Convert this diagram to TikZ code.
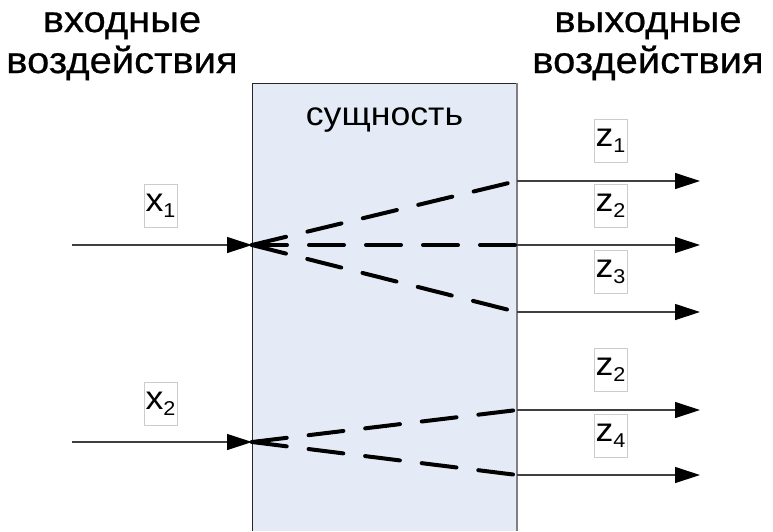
\documentclass[tikz,border=0pt]{standalone}
\usepackage{fontspec}
\setmainfont{Liberation Sans}[FakeStretch=1.08]
\newfontfamily\headfont{Liberation Sans}[FakeStretch=1.08,FakeBold=0.6]
\usetikzlibrary{arrows.meta}
\definecolor{entityblue}{HTML}{E5EBF6}
\newcommand{\varidx}[1]{\raisebox{-6pt}{\fontsize{20}{20}\selectfont #1}}

\begin{document}
\begin{tikzpicture}[x=1pt,y=-1pt,
    signal/.style={draw=black!75, line width=1.2pt, -{Triangle[length=25pt,width=16pt,black]}},
    effect/.style={line width=4pt, line cap=round, dash pattern=on 35pt off 22pt},
    varbox/.style={draw=black!20, line width=0.6pt, inner xsep=1.5pt, inner ysep=0pt,
      minimum width=33pt, minimum height=43pt, font=\fontsize{33}{33}\selectfont},
    heading/.style={anchor=base, font=\headfont\fontsize{37}{37}\selectfont}]
  \useasboundingbox (0,0) rectangle (773,531);
  % Entity block
  \fill[entityblue] (252,83) rectangle (517,531);
  \draw[black!85, line width=1pt] (252,531) |- (517,83);
  \draw[black!50, line width=1.5pt] (517,83) -- (517,531);
  \node[anchor=base, font=\fontsize{33}{33}\selectfont] (entity) at (384.5,125) {сущность};
  % Headings
  \node[heading] (inhead1) at (122,32) {входные};
  \node[heading] (inhead2) at (122,73) {воздействия};
  \node[heading] (outhead1) at (648,32) {выходные};
  \node[heading] (outhead2) at (648,73) {воздействия};
  % Ports on the block
  \coordinate (src1) at (72,245);
  \coordinate (src2) at (72,442);
  \coordinate (in1) at (252,245);
  \coordinate (in2) at (252,442);
  \coordinate (out1) at (517,181);
  \coordinate (out2) at (517,245);
  \coordinate (out3) at (517,312);
  \coordinate (out4) at (517,410);
  \coordinate (out5) at (517,475);
  \coordinate (end1) at (700,181);
  \coordinate (end2) at (700,245);
  \coordinate (end3) at (700,312);
  \coordinate (end4) at (700,410);
  \coordinate (end5) at (700,475);
  % Input signals
  \draw[signal] (src1) -- (in1);
  \draw[signal] (src2) -- (in2);
  \node[varbox] (x1) at (160.5,205.5) {x\varidx{1}};
  \node[varbox] (x2) at (160.5,403.5) {x\varidx{2}};
  % Inner effects (dashed)
  \draw[effect] (in1) -- (out1);
  \draw[effect] (in1) -- (out2);
  \draw[effect] (in1) -- (out3);
  \draw[effect] (in2) -- (out4);
  \draw[effect] (in2) -- (out5);
  % Output signals
  \foreach \i in {1,...,5}
    \draw[signal] (out\i) -- (end\i);
  \node[varbox] (z1) at (610.5,141) {z\varidx{1}};
  \node[varbox] (z2) at (610.5,206) {z\varidx{2}};
  \node[varbox] (z3) at (610.5,271.5) {z\varidx{3}};
  \node[varbox] (z2b) at (610.5,370) {z\varidx{2}};
  \node[varbox] (z4) at (610.5,436) {z\varidx{4}};
\end{tikzpicture}
\end{document}
